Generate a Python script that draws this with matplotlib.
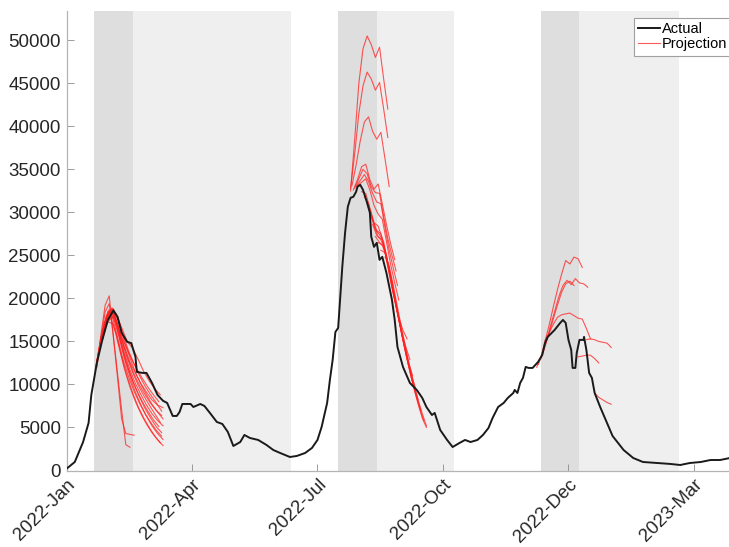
import numpy as np
import matplotlib
matplotlib.use("Agg")
import matplotlib.pyplot as plt

plt.rcParams['font.family'] = ['Liberation Sans', 'DejaVu Sans']

# days since 2022-01-01
actual_day = [0, 6, 12, 16, 18, 22, 26, 30, 34, 37, 40, 44, 47, 50, 51, 55, 58, 62, 66, 70, 73,
              77, 80, 82, 84, 90, 92, 97, 100, 104, 109, 113, 117, 121, 126, 129, 133, 139,
              145, 150, 155, 162, 167, 173, 178, 182, 185, 189, 191, 193, 195, 197, 200, 202,
              204, 206, 208, 210, 211, 213, 215, 218, 220, 221, 223, 225, 227, 229, 232, 236,
              238, 240, 244, 249, 254, 258, 261, 265, 267, 271, 276, 280, 285, 289, 293, 298,
              302, 306, 309, 313, 317, 320, 324, 325, 327, 329, 331, 333, 335, 338, 342, 345,
              347, 349, 354, 358, 360, 362, 364, 366, 367, 369, 370, 372, 375, 375.3, 377, 379,
              381, 383, 387, 392, 396, 404, 411, 418, 428, 438, 445, 452, 460, 467, 474, 481]
actual_val = [200, 990, 3300, 5520, 8780, 12500, 15200, 17500, 18600, 17850, 16000, 14950, 14800,
              13200, 11460, 11340, 11340, 10180, 8780, 8100, 7850, 6340, 6340, 6800, 7730, 7730,
              7380, 7730, 7500, 6690, 5640, 5410, 4480, 2850, 3310, 4130, 3780, 3550, 2970, 2380,
              2030, 1570, 1690, 2030, 2620, 3550, 5060, 7850, 10520, 12850, 16100, 16570, 23670,
              27620, 30650, 31690, 31810, 32390, 32970, 33200, 32620, 31110, 29950, 27160, 25990,
              26460, 24480, 24830, 22970, 19830, 17500, 14360, 12040, 10180, 9360, 8430, 7380,
              6450, 6690, 4710, 3550, 2730, 3200, 3550, 3310, 3550, 4130, 4940, 6110, 7380, 7850,
              8430, 9010, 9360, 9010, 10180, 10760, 12040, 11920, 11920, 12620, 13430, 14830,
              15530, 16340, 17150, 17500, 17150, 15180, 14010, 11920, 11920, 13660, 15180, 15180,
              15530, 14010, 11340, 10760, 9010, 7380, 5520, 4010, 2380, 1450, 990, 870, 760, 640,
              870, 990, 1220, 1220, 1450]

# projections: (start day, step in days, values)
proj_wave1 = [
    (24, 4, [14200, 17300, 18600, 18200, 16600, 15000, 14200, 12900, 11500, 10400, 9500, 8800]),
    (23, 4, [13500, 16800, 18700, 18000, 16000, 14400, 13000, 11800, 10700, 9700, 8800, 8000]),
    (22, 4, [12700, 16200, 18500, 18600, 16300, 14400, 12600, 11300, 10100, 9100, 8200, 7600, 7300]),
    (25, 4, [14800, 17800, 18900, 17900, 15800, 13900, 12400, 11000, 9800, 8800, 7900, 6900]),
    (21, 4, [11800, 15500, 18000, 18800, 17000, 14700, 12800, 11200, 9900, 8800, 7800, 7000, 6400]),
    (26, 4, [15200, 18200, 18800, 17200, 15000, 13100, 11400, 10000, 8800, 7700, 6800, 6000]),
    (24, 4, [14000, 17000, 18500, 17500, 15200, 13100, 11400, 9900, 8700, 7600, 6600, 5600]),
    (22, 4, [12700, 16000, 18200, 18400, 16000, 13600, 11700, 10100, 8800, 7600, 6600, 5800, 5200]),
    (23, 4, [13400, 16500, 18300, 17600, 15000, 12600, 10800, 9300, 8000, 6900, 5900, 5100]),
    (25, 4, [14700, 17500, 18300, 16600, 14000, 11800, 10000, 8500, 7200, 6100, 5100, 4400]),
    (21, 4, [11700, 15200, 17700, 18000, 15500, 12900, 10900, 9200, 7800, 6600, 5600, 4700, 4000]),
    (26, 4, [15100, 17600, 17800, 15600, 13000, 10900, 9100, 7600, 6300, 5200, 4300, 3600]),
    (24, 4, [14000, 16800, 17700, 15900, 13200, 10900, 9000, 7400, 6100, 5000, 4000, 3200]),
    (22, 4, [12600, 15600, 17300, 17000, 14400, 11800, 9700, 8000, 6600, 5400, 4400, 3600, 2900]),
    (22, 3, [12200, 15800, 19200, 20300, 15500, 10800, 6000, 4300, 4200, 4100]),
    (22, 3, [12000, 15300, 18400, 19400, 15600, 11300, 7000, 3000, 2700]),
]

proj_wave2 = [
    (206, 3, [32500, 38500, 45000, 49000, 50500, 49500, 48000, 49200, 45500, 42000]),
    (206, 3, [32800, 36800, 41500, 44700, 46300, 45500, 44200, 45100, 42000, 38700]),
    (207, 3, [33100, 35500, 38300, 40500, 41100, 39400, 38500, 39300, 36200, 33000]),
    (208, 3, [32600, 33800, 35300, 35600, 33800, 32700, 33300, 31000, 28600, 26400, 24500]),
    (209, 3, [32800, 33900, 35000, 34500, 33000, 32300, 32200, 29500, 27000, 25000, 23200]),
    (210, 3, [33000, 33700, 34400, 33600, 32200, 31200, 31000, 28200, 25600, 23500, 21500]),
    (211, 3, [33100, 33500, 33900, 32600, 30800, 29800, 29200, 26600, 24000, 21800, 19800]),
    (214, 3, [32400, 32200, 30500, 28800, 28400, 27000, 24500, 22000, 19800, 17800, 16300, 15300]),
    (216, 3, [31800, 31000, 29200, 27900, 27500, 25500, 23000, 20500, 18300, 16200, 14400, 12900]),
    (218, 3, [31000, 29800, 28000, 27400, 26600, 24200, 21500, 19000, 16800, 14600, 12600, 11000]),
    (220, 3, [30000, 28500, 27200, 26800, 25000, 22500, 20000, 17500, 15200, 13100, 11200, 9600]),
    (222, 3, [28600, 27300, 26800, 25600, 23500, 21000, 18500, 16000, 13800, 11700, 9800, 8200]),
    (224, 3, [27200, 26500, 26000, 24000, 21800, 19300, 16800, 14500, 12300, 10300, 8500, 7000]),
    (226, 3, [26500, 26200, 24800, 22500, 20000, 17500, 15100, 12900, 10800, 9000, 7300, 5800]),
    (228, 3, [25600, 25300, 23500, 21000, 18400, 16000, 13600, 11500, 9500, 7700, 6100, 5000]),
    (231, 3, [24800, 23800, 21500, 19000, 16500, 14200, 12000, 10000, 8200, 6600, 5200]),
]

proj_wave3 = [
    (341, 3, [12000, 13200, 15000, 16900, 19000, 21000, 22800, 24400, 24000, 24800, 24600, 23600]),
    (342, 3, [12300, 13500, 15000, 16800, 18500, 20200, 21500, 22100, 21600, 22300, 21800, 21700, 21300]),
    (344, 3, [13000, 14400, 16000, 17600, 19200, 20700, 21700, 22000, 21500]),
    (347, 3, [15100, 16000, 17000, 17800, 18100, 18200, 18300, 18000, 17700, 17600, 16500, 15300]),
    (377, 3, [15200, 15300, 15200, 15000, 14900, 14800, 14300]),
    (371, 3, [13200, 13300, 13400, 13400, 13000, 12500]),
    (383, 3, [9000, 8500, 8200, 7900, 7700]),
]

band_dark = [(20, 48), (197, 225), (344, 372)]
band_light = [(48, 163), (225, 281), (372, 444)]

tick_days = [0, 91, 182, 273, 364, 455]
tick_labels = ['2022-Jan', '2022-Apr', '2022-Jul', '2022-Oct', '2022-Dec', '2023-Mar']

fig = plt.figure(figsize=(7.29, 5.47), dpi=100)
ax_left, ax_right = 66.5 / 729, 745 / 729
ax = fig.add_axes([ax_left, 76.5 / 547, ax_right - ax_left, 459.5 / 547])

for a, b in band_dark:
    ax.axvspan(a, b, color='#dedede', lw=0, zorder=0)
for a, b in band_light:
    ax.axvspan(a, b, color='#efefef', lw=0, zorder=0)

first = True
for wave in (proj_wave1, proj_wave2, proj_wave3):
    for start, step, vals in wave:
        days = start + step * np.arange(len(vals))
        ax.plot(days, vals, color='#ff2020', lw=0.8, alpha=0.75, zorder=2,
                label='Projection' if first else None)
        first = False

ax.plot(actual_day, actual_val, color='#1a1a1a', lw=1.4, zorder=3, label='Actual')

ax.set_xlim(0, (745 - 66.5) / 1.379)
ax.set_ylim(0, 53400)
ax.set_yticks(np.arange(0, 50001, 5000))
ax.set_xticks(tick_days)
ax.set_xticklabels(tick_labels, rotation=45, ha='right', rotation_mode='anchor')

for s in ['top', 'right']:
    ax.spines[s].set_visible(False)
for s in ['left', 'bottom']:
    ax.spines[s].set_color('#b4b4b4')
    ax.spines[s].set_linewidth(0.9)
ax.tick_params(direction='in', length=5, width=0.6, color='#8c8c8c',
               labelsize=13.5, labelcolor='#262626', pad=4)

handles, labels = ax.get_legend_handles_labels()
order = [labels.index('Actual'), labels.index('Projection')]
leg = ax.legend([handles[i] for i in order], [labels[i] for i in order],
                loc='upper left', bbox_to_anchor=(634 / 729, 1 - 17.5 / 547),
                bbox_transform=fig.transFigure, borderaxespad=0, fontsize=10.5,
                handlelength=1.5, handletextpad=0.1, labelspacing=0.1,
                borderpad=0.3, fancybox=False, framealpha=1)
leg.get_frame().set_edgecolor('#a0a0a0')
leg.get_frame().set_linewidth(0.8)

fig.savefig('out.png', dpi=100)
